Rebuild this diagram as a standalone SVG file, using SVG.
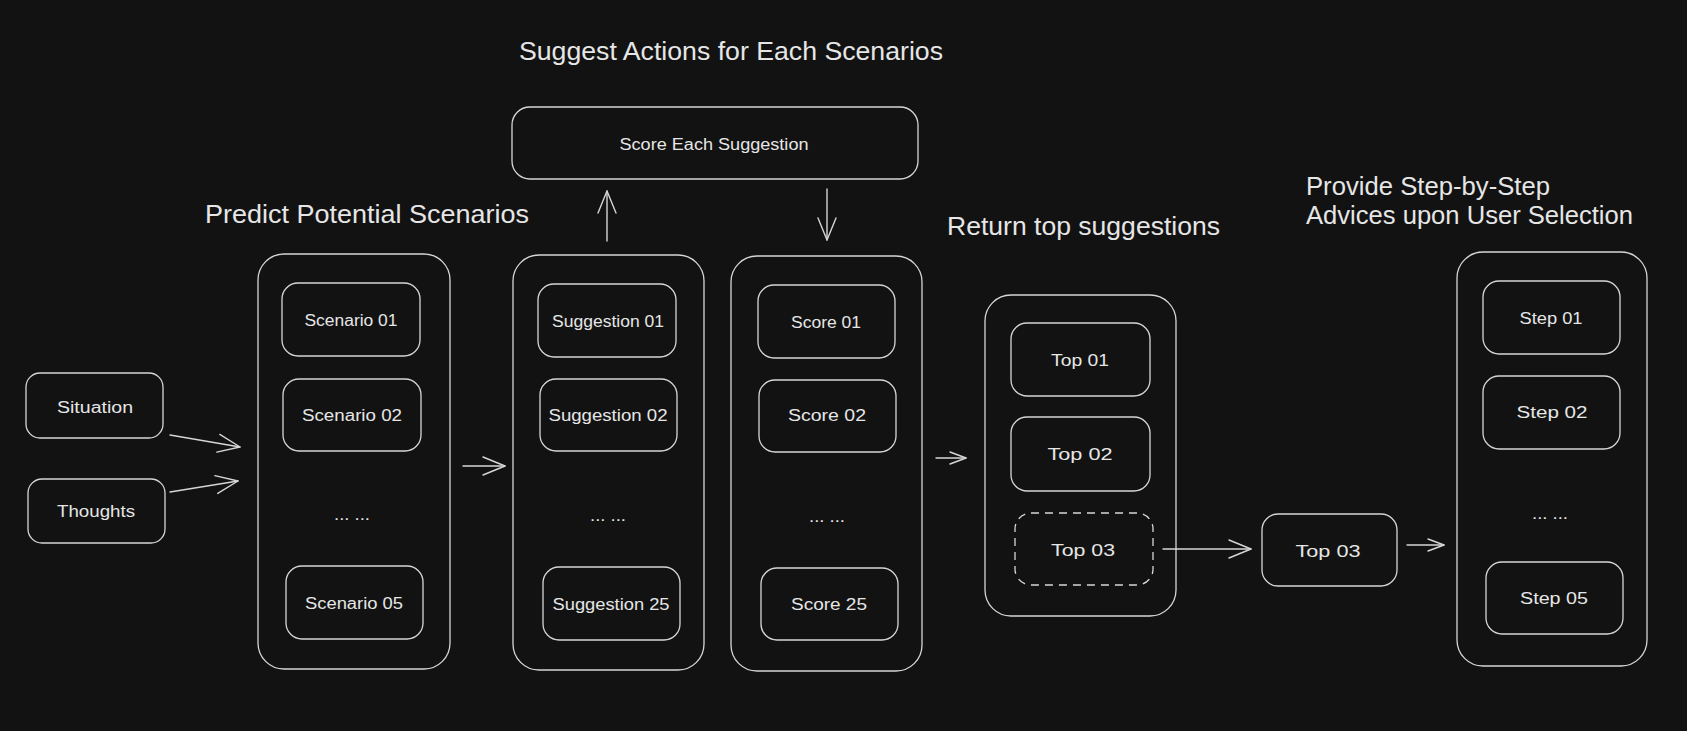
<svg xmlns="http://www.w3.org/2000/svg" width="1687" height="731" viewBox="0 0 1687 731">
<defs>
<style>
.bg{fill:#121212}
.box{fill:none;stroke:#d6d6d6;stroke-width:1.3}
.dash{stroke-dasharray:8 6}
.lbl{font-family:"Liberation Sans",Arial,sans-serif;font-size:16px;fill:#e6e6e6;text-anchor:middle;dominant-baseline:central}
.ttl{font-family:"Liberation Sans",Arial,sans-serif;font-size:25px;fill:#e6e6e6}
.dots{font-family:"Liberation Sans",Arial,sans-serif;font-size:16px;fill:#e6e6e6;text-anchor:middle}
.con{fill:none;stroke:#d6d6d6;stroke-width:1.4;stroke-linecap:round}
.big{marker-end:url(#hb)}
.sm{marker-end:url(#hs)}
</style>
<marker id="hb" markerUnits="userSpaceOnUse" viewBox="-24 -12 26 24" refX="0" refY="0" markerWidth="26" markerHeight="24" orient="auto" overflow="visible">
<path d="M-22,-9 L0,0 L-22,9" fill="none" stroke="#d6d6d6" stroke-width="1.4" stroke-linecap="round" stroke-linejoin="round"/>
</marker>
<marker id="hs" markerUnits="userSpaceOnUse" viewBox="-18 -8 20 16" refX="0" refY="0" markerWidth="20" markerHeight="16" orient="auto" overflow="visible">
<path d="M-16,-6 L0,0 L-16,6" fill="none" stroke="#d6d6d6" stroke-width="1.4" stroke-linecap="round" stroke-linejoin="round"/>
</marker>
</defs>
<rect class="bg" x="0" y="0" width="1687" height="731"/>

<g id="titles">
<text class="ttl" x="519" y="60" textLength="424" lengthAdjust="spacingAndGlyphs">Suggest Actions for Each Scenarios</text>
<text class="ttl" x="205" y="223" textLength="324" lengthAdjust="spacingAndGlyphs">Predict Potential Scenarios</text>
<text class="ttl" x="947" y="235" textLength="273" lengthAdjust="spacingAndGlyphs">Return top suggestions</text>
<text class="ttl" x="1306" y="195" textLength="244" lengthAdjust="spacingAndGlyphs">Provide Step-by-Step</text>
<text class="ttl" x="1306" y="224" textLength="327" lengthAdjust="spacingAndGlyphs">Advices upon User Selection</text>
</g>

<g id="situation">
<rect class="box" x="26" y="373" width="137" height="65" rx="14"/>
<text class="lbl" x="95" y="407" textLength="76" lengthAdjust="spacingAndGlyphs">Situation</text>
</g>
<g id="thoughts">
<rect class="box" x="28" y="479" width="137" height="64" rx="14"/>
<text class="lbl" x="96" y="511" textLength="78" lengthAdjust="spacingAndGlyphs">Thoughts</text>
</g>

<g id="scenarios">
<rect class="box" x="258" y="254" width="192" height="415" rx="26"/>
<g id="scenario01">
<rect class="box" x="282" y="283" width="138" height="73" rx="16"/>
<text class="lbl" x="351" y="320" textLength="93" lengthAdjust="spacingAndGlyphs">Scenario 01</text>
</g>
<g id="scenario02">
<rect class="box" x="283" y="379" width="138" height="72" rx="16"/>
<text class="lbl" x="352" y="415" textLength="100" lengthAdjust="spacingAndGlyphs">Scenario 02</text>
</g>
<text class="dots" x="352" y="520" textLength="36" lengthAdjust="spacingAndGlyphs">... ...</text>
<g id="scenario05">
<rect class="box" x="286" y="566" width="137" height="73" rx="16"/>
<text class="lbl" x="354" y="603" textLength="98" lengthAdjust="spacingAndGlyphs">Scenario 05</text>
</g>
</g>

<g id="score-each">
<rect class="box" x="512" y="107" width="406" height="72" rx="18"/>
<text class="lbl" x="714" y="144" textLength="189" lengthAdjust="spacingAndGlyphs">Score Each Suggestion</text>
</g>

<g id="suggestions">
<rect class="box" x="513" y="255" width="191" height="415" rx="26"/>
<g id="suggestion01">
<rect class="box" x="538" y="284" width="138" height="73" rx="16"/>
<text class="lbl" x="608" y="321" textLength="112" lengthAdjust="spacingAndGlyphs">Suggestion 01</text>
</g>
<g id="suggestion02">
<rect class="box" x="540" y="379" width="137" height="72" rx="16"/>
<text class="lbl" x="608" y="415" textLength="119" lengthAdjust="spacingAndGlyphs">Suggestion 02</text>
</g>
<text class="dots" x="608" y="521" textLength="36" lengthAdjust="spacingAndGlyphs">... ...</text>
<g id="suggestion25">
<rect class="box" x="543" y="567" width="137" height="73" rx="16"/>
<text class="lbl" x="611" y="604" textLength="117" lengthAdjust="spacingAndGlyphs">Suggestion 25</text>
</g>
</g>

<g id="scores">
<rect class="box" x="731" y="256" width="191" height="415" rx="26"/>
<g id="score01">
<rect class="box" x="758" y="285" width="137" height="73" rx="16"/>
<text class="lbl" x="826" y="322" textLength="70" lengthAdjust="spacingAndGlyphs">Score 01</text>
</g>
<g id="score02">
<rect class="box" x="759" y="380" width="137" height="72" rx="16"/>
<text class="lbl" x="827" y="415" textLength="78" lengthAdjust="spacingAndGlyphs">Score 02</text>
</g>
<text class="dots" x="827" y="522" textLength="36" lengthAdjust="spacingAndGlyphs">... ...</text>
<g id="score25">
<rect class="box" x="761" y="568" width="137" height="72" rx="16"/>
<text class="lbl" x="829" y="604" textLength="76" lengthAdjust="spacingAndGlyphs">Score 25</text>
</g>
</g>

<g id="tops">
<rect class="box" x="985" y="295" width="191" height="321" rx="26"/>
<g id="top01">
<rect class="box" x="1011" y="323" width="139" height="73" rx="16"/>
<text class="lbl" x="1080" y="360" textLength="58" lengthAdjust="spacingAndGlyphs">Top 01</text>
</g>
<g id="top02">
<rect class="box" x="1011" y="417" width="139" height="74" rx="16"/>
<text class="lbl" x="1080" y="454" textLength="65" lengthAdjust="spacingAndGlyphs">Top 02</text>
</g>
<g id="top03-dashed">
<rect class="box dash" x="1015" y="513" width="138" height="72" rx="16"/>
<text class="lbl" x="1083" y="550" textLength="64" lengthAdjust="spacingAndGlyphs">Top 03</text>
</g>
</g>

<g id="top03">
<rect class="box" x="1262" y="514" width="135" height="72" rx="16"/>
<text class="lbl" x="1328" y="551" textLength="65" lengthAdjust="spacingAndGlyphs">Top 03</text>
</g>

<g id="steps">
<rect class="box" x="1457" y="252" width="190" height="414" rx="26"/>
<g id="step01">
<rect class="box" x="1483" y="281" width="137" height="73" rx="16"/>
<text class="lbl" x="1551" y="318" textLength="63" lengthAdjust="spacingAndGlyphs">Step 01</text>
</g>
<g id="step02">
<rect class="box" x="1483" y="376" width="137" height="73" rx="16"/>
<text class="lbl" x="1552" y="412" textLength="71" lengthAdjust="spacingAndGlyphs">Step 02</text>
</g>
<text class="dots" x="1550" y="519" textLength="36" lengthAdjust="spacingAndGlyphs">... ...</text>
<g id="step05">
<rect class="box" x="1486" y="562" width="137" height="72" rx="16"/>
<text class="lbl" x="1554" y="598" textLength="68" lengthAdjust="spacingAndGlyphs">Step 05</text>
</g>
</g>

<g id="connectors">
<path class="con big" d="M170,435 L240,447"/>
<path class="con big" d="M170,492 L238,481"/>
<path class="con big" d="M463,466 L505,466"/>
<path class="con big" d="M607,241 L607,191"/>
<path class="con big" d="M827,189 L827,240"/>
<path class="con sm" d="M936,458 L966,458"/>
<path class="con big" d="M1163,549 L1251,549"/>
<path class="con sm" d="M1407,545 L1444,545"/>
</g>
</svg>
